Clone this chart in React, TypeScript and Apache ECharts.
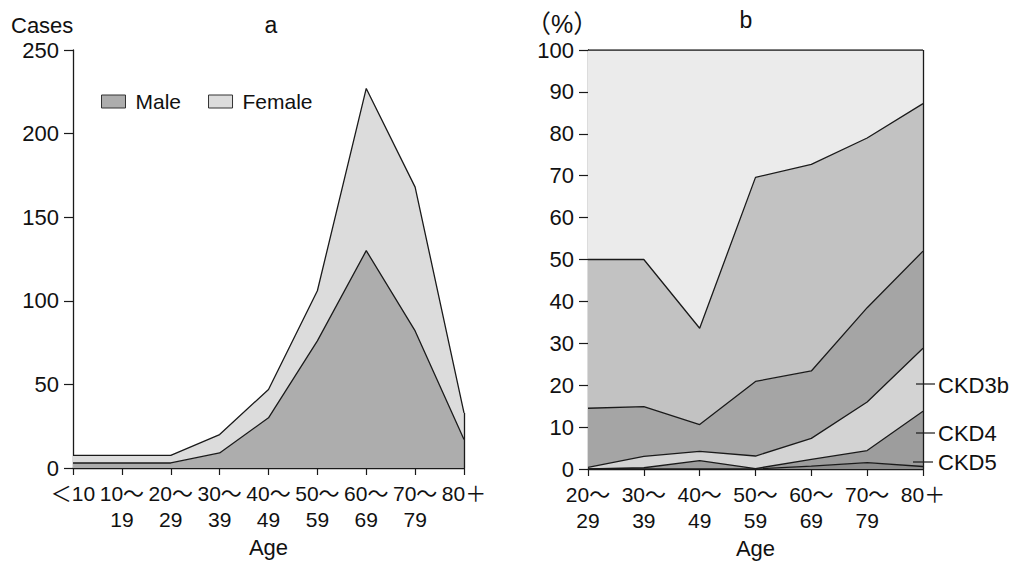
import React, { useEffect, useRef } from "react";
import * as echarts from "echarts";

const ageLeft = ["＜10", "10～\n19", "20～\n29", "30～\n39", "40～\n49", "50～\n59", "60～\n69", "70～\n79", "80＋"];
const male = [3, 3, 3, 9, 30, 76, 130, 82, 17];
const female = [4.5, 4.5, 4.5, 11, 17, 30, 97, 86, 16];
const casesTicks = { min: 0, max: 250, interval: 50 };

const ageRight = ["20～\n29", "30～\n39", "40～\n49", "50～\n59", "60～\n69", "70～\n79", "80＋"];
const ckd5 = [0, 0, 0, 0, 0.7, 1.5, 0.6];
const ckd4 = [0, 0.3, 2.0, 0.1, 1.6, 2.9, 13.2];
const ckd3b = [0.4, 2.7, 2.2, 3.0, 5.0, 11.6, 15.0];
const ckd3a = [14.1, 11.9, 6.4, 17.8, 16.1, 22.5, 23.2];
const ckd2 = [35.5, 35.1, 23.0, 48.7, 49.3, 40.5, 35.2];
const ckd1 = [50, 50, 66.4, 30.4, 27.3, 21, 12.8];
const pctTicks = { min: 0, max: 100, interval: 10 };

const FONT = "'Liberation Sans', Arial, 'Noto Sans CJK JP', sans-serif";
const INK = "#111";

export default function App() {
  const ref = useRef<HTMLDivElement>(null);
  useEffect(() => {
    if (!ref.current) return;
    const chart = echarts.init(ref.current, null, { renderer: "svg" });
    const line = { color: "#1a1a1a", width: 1.3 };
    const axisCommon = {
      axisLine: { show: true, lineStyle: { color: "#1a1a1a", width: 1.3 } },
      axisTick: { show: true, length: 9, lineStyle: { color: "#1a1a1a", width: 1.2 } },
      splitLine: { show: false },
    };
    const xCommon = (data: string[], grid: number, gap: number) => ({
      type: "category",
      gridIndex: grid,
      data,
      boundaryGap: false,
      ...axisCommon,
      axisTick: { show: true, length: 7, alignWithLabel: true, interval: 0, lineStyle: { color: "#1a1a1a", width: 1.2 } },
      axisLabel: { interval: 0, margin: 12, fontSize: 21, lineHeight: 26, color: INK, fontFamily: FONT },
      name: "Age",
      nameLocation: "middle",
      nameGap: gap,
      nameTextStyle: { fontSize: 22, lineHeight: 22, color: INK, fontFamily: FONT },
    });
    const yCommon = (grid: number, t: { min: number; max: number; interval: number }) => ({
      type: "value",
      gridIndex: grid,
      min: t.min,
      max: t.max,
      interval: t.interval,
      ...axisCommon,
      axisLabel: { margin: 14, fontSize: 22, color: INK, fontFamily: FONT },
    });
    const area = (name: string, data: number[], color: string, grid: number, stack: string, extra: any = {}) => ({
      name,
      type: "line",
      xAxisIndex: grid,
      yAxisIndex: grid,
      stack,
      data,
      symbol: "none",
      lineStyle: line,
      itemStyle: { color },
      areaStyle: { color, opacity: 1 },
      ...extra,
    });
    const edge = (cat: string, top: number) => ({
      markLine: {
        silent: true,
        symbol: ["none", "none"],
        label: { show: false },
        lineStyle: { color: "#1a1a1a", width: 1.3, type: "solid" },
        data: [[{ coord: [cat, 0] }, { coord: [cat, top] }]],
      },
    });
    const lastL = male.length - 1;
    const lastR = ckd1.length - 1;
    const txt = (text: string, x: number, y: number, align = "center", size = 22) => ({
      type: "text",
      x,
      y,
      style: { text, fontSize: size, fontFamily: FONT, fill: INK, align, verticalAlign: "middle" },
    });
    const pointer = (x1: number, x2: number, y: number) => ({
      type: "line",
      shape: { x1, y1: y, x2, y2: y },
      style: { stroke: "#1a1a1a", lineWidth: 1.2 },
      z: 10,
    });
    chart.setOption({
      animation: false,
      textStyle: { fontFamily: FONT },
      grid: [
        { left: 73, top: 50, width: 391, height: 418, outerBoundsMode: "none", containLabel: false },
        { left: 588, top: 50, width: 335, height: 419, outerBoundsMode: "none", containLabel: false },
      ],
      legend: {
        data: ["Male", "Female"],
        left: 101,
        top: 91,
        padding: 0,
        icon: "rect",
        itemWidth: 24,
        itemHeight: 13,
        itemGap: 27,
        itemStyle: { borderColor: "#333", borderWidth: 1 },
        textStyle: { fontSize: 21, color: INK, fontFamily: FONT, padding: [0, 0, 0, 5] },
      },
      xAxis: [xCommon(ageLeft, 0, 68), xCommon(ageRight, 1, 67)],
      yAxis: [yCommon(0, casesTicks), yCommon(1, pctTicks)],
      series: [
        area("Male", male, "#adadad", 0, "sex"),
        area("Female", female, "#dcdcdc", 0, "sex", edge(ageLeft[lastL], male[lastL] + female[lastL])),
        area("CKD5", ckd5, "#8c8c8c", 1, "ckd"),
        area("CKD4", ckd4, "#9d9d9d", 1, "ckd"),
        area("CKD3b", ckd3b, "#d3d3d3", 1, "ckd"),
        area("CKD3a", ckd3a, "#a5a5a5", 1, "ckd"),
        area("CKD2", ckd2, "#c2c2c2", 1, "ckd"),
        area("CKD1", ckd1, "#ebebeb", 1, "ckd", edge(ageRight[lastR], pctTicks.max)),
      ],
      graphic: [
        txt("Cases", 11, 25, "left"),
        txt("a", 271, 25, "center", 23),
        txt("（%）", 526, 24, "left", 25),
        txt("b", 746, 20, "center", 23),
        txt("CKD1", 763, 118),
        txt("CKD2", 763, 299),
        txt("CKD3a", 769, 424),
        txt("CKD3b", 938, 385, "left"),
        txt("CKD4", 938, 433, "left"),
        txt("CKD5", 938, 462, "left"),
        pointer(916, 935, 384),
        pointer(916, 935, 433),
        pointer(913, 933, 462),
      ],
    });
    return () => chart.dispose();
  }, []);
  return <div ref={ref} style={{ position: "absolute", left: 0, top: 0, width: 1012, height: 561 }} />;
}
